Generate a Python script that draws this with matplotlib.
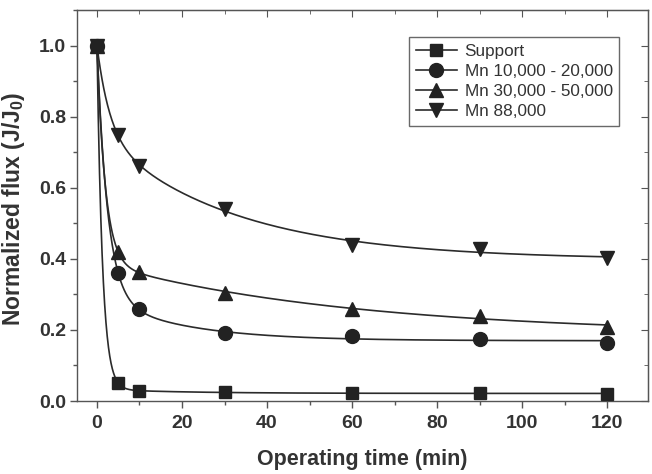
import numpy as np
import matplotlib
matplotlib.use("Agg")
import matplotlib.pyplot as plt
from matplotlib.ticker import MultipleLocator

plt.rcParams['font.family'] = ['Liberation Sans', 'DejaVu Sans']
plt.rcParams['mathtext.fontset'] = 'custom'
plt.rcParams['mathtext.rm'] = 'Liberation Sans:bold'
plt.rcParams['mathtext.it'] = 'Liberation Sans:bold'
plt.rcParams['mathtext.bf'] = 'Liberation Sans:bold'

time_min = [0, 5, 10, 30, 60, 90, 120]
support = [1.0, 0.051, 0.029, 0.024, 0.022, 0.0216, 0.021]
mn_10_20k = [1.0, 0.359, 0.258, 0.190, 0.183, 0.174, 0.162]
mn_30_50k = [1.0, 0.419, 0.363, 0.304, 0.260, 0.239, 0.209]
mn_88k = [1.0, 0.747, 0.661, 0.541, 0.440, 0.429, 0.401]

labels = ["Support", "Mn 10,000 - 20,000", "Mn 30,000 - 50,000", "Mn 88,000"]
markers = ["s", "o", "^", "v"]
msizes = [9, 10, 10.5, 10.5]
series = [support, mn_10_20k, mn_30_50k, mn_88k]


def fit_curve(t, y, tt):
    """Least-squares double-exponential decay fit (grid over time constants)."""
    t = np.asarray(t, float)
    y = np.asarray(y, float)
    best = None
    for t1 in np.geomspace(0.5, 30, 70):
        for t2 in np.geomspace(5, 400, 70):
            if t2 <= t1 * 1.5:
                continue
            A = np.column_stack([np.ones_like(t), np.exp(-t / t1), np.exp(-t / t2)])
            coef, *_ = np.linalg.lstsq(A, y, rcond=None)
            if coef[1] < 0 or coef[2] < 0:
                continue
            r = np.sum((A @ coef - y) ** 2)
            if best is None or r < best[0]:
                best = (r, t1, t2, coef)
    _, t1, t2, c = best
    return c[0] + c[1] * np.exp(-tt / t1) + c[2] * np.exp(-tt / t2)


fig = plt.figure(figsize=(6.52, 4.74), dpi=100)
ax = fig.add_axes([77 / 652, 1 - 401 / 474, (648 - 77) / 652, (401 - 10) / 474])

tt = np.linspace(0, 120, 1200)
col = "#2b2b2b"
for ys, lab, mk, ms in zip(series, labels, markers, msizes):
    ax.plot(tt, fit_curve(time_min, ys, tt), color=col, lw=1.2, zorder=2)
    ax.plot(time_min, ys, linestyle="none", marker=mk, ms=ms, color="#222222", zorder=3)
    ax.plot([], [], color=col, lw=1.2, marker=mk, ms=ms, mfc="#222222", mec="#222222", label=lab)

ax.set_xlim(-4.7, 129.6)
ax.set_ylim(0, 1.1)
ax.xaxis.set_major_locator(MultipleLocator(20))
ax.xaxis.set_minor_locator(MultipleLocator(10))
ax.yaxis.set_major_locator(MultipleLocator(0.2))
ax.yaxis.set_minor_locator(MultipleLocator(0.1))
ax.yaxis.set_major_formatter(matplotlib.ticker.FormatStrFormatter('%.1f'))

for s in ax.spines.values():
    s.set_color("#555555")
    s.set_linewidth(1.0)

ax.tick_params(axis='both', which='both', colors="#555555", labelcolor="#333333",
               labelsize=14, width=1.0, direction='out')
ax.tick_params(which='major', length=5)
ax.tick_params(which='minor', length=3)
ax.tick_params(axis='x', pad=5)
ax.tick_params(axis='y', pad=3)
# inward ticks on top and right
axt = ax.secondary_xaxis('top')
axt.xaxis.set_major_locator(MultipleLocator(20))
axt.xaxis.set_minor_locator(MultipleLocator(10))
axt.tick_params(which='both', direction='in', labeltop=False, colors="#555555")
axt.tick_params(which='major', length=5)
axt.tick_params(which='minor', length=3)
axr = ax.secondary_yaxis('right')
axr.yaxis.set_major_locator(MultipleLocator(0.2))
axr.yaxis.set_minor_locator(MultipleLocator(0.1))
axr.tick_params(which='both', direction='in', labelright=False, colors="#555555")
axr.tick_params(which='major', length=5)
axr.tick_params(which='minor', length=3)
for sp in list(axt.spines.values()) + list(axr.spines.values()):
    sp.set_color("#555555")

for lbl in ax.get_xticklabels() + ax.get_yticklabels():
    lbl.set_fontweight('bold')

ax.set_xlabel("Operating time (min)", fontsize=15.5, fontweight='bold', color="#333333", labelpad=12)
ax.set_ylabel("Normalized flux (J/J$_0$)", fontsize=16.5, fontweight='bold', color="#333333")
ax.yaxis.set_label_coords((27 - 77) / 571, (401 - 209) / 391)

leg = ax.legend(loc='upper left', bbox_to_anchor=((409 - 77) / 571, (401 - 37) / 391),
                fontsize=12.3, frameon=True, fancybox=False, handlelength=2.4,
                handletextpad=0.45, borderpad=0.4, labelspacing=0.3, borderaxespad=0)
leg.get_frame().set_edgecolor("#444444")
leg.get_frame().set_linewidth(1.0)
for t in leg.get_texts():
    t.set_color("#333333")

fig.savefig("out.png", dpi=100)
